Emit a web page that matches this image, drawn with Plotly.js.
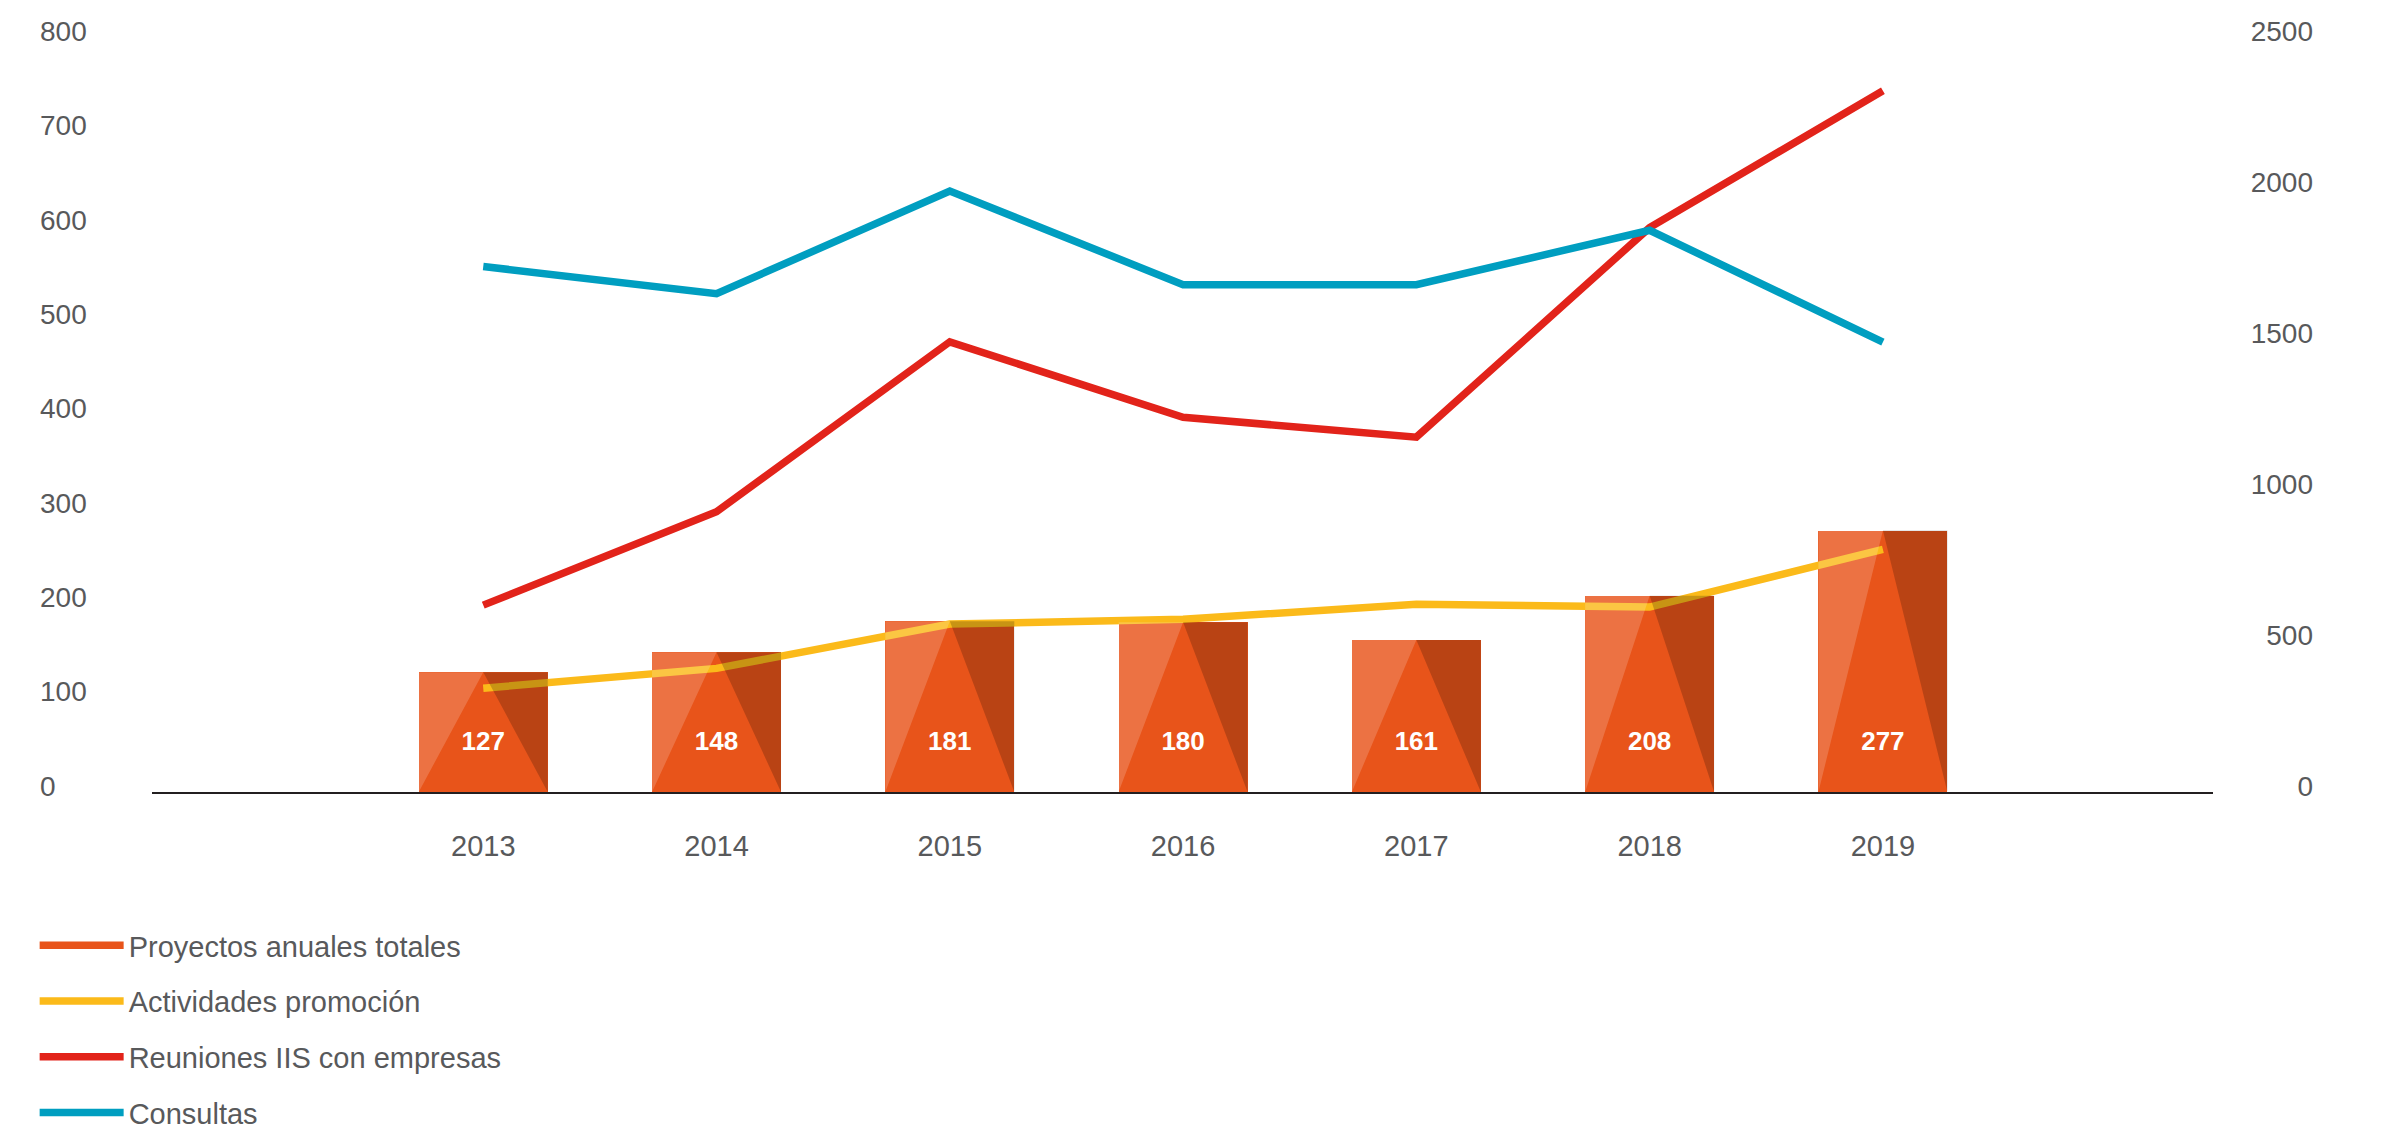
<!DOCTYPE html>
<html>
<head>
<meta charset="utf-8">
<script src="https://cdn.plot.ly/plotly-3.0.1.min.js"></script>
<style>html,body{margin:0;padding:0;background:#fff;}#chart{width:2382px;height:1138px;}</style>
</head>
<body>
<div id="chart"></div>
<script>
// ---- data ----
const years = [2013, 2014, 2015, 2016, 2017, 2018, 2019];
const yearLabels = ["2013", "2014", "2015", "2016", "2017", "2018", "2019"];
const proyectos = [127, 148, 181, 180, 161, 208, 277];           // Proyectos anuales totales (left axis)
const actividades = [110, 131, 178, 183, 199, 196, 257];         // Actividades promoción (left axis)
const reuniones = [198, 297, 477, 397, 376, 598, 743];           // Reuniones IIS con empresas (left axis)
const consultas = [1740, 1650, 1990, 1680, 1680, 1860, 1490];    // Consultas (right axis)
const leftTicks = [0, 100, 200, 300, 400, 500, 600, 700, 800];
const rightTicks = [0, 500, 1000, 1500, 2000, 2500];
const seriesNames = ["Proyectos anuales totales", "Actividades promoción", "Reuniones IIS con empresas", "Consultas"];

// ---- style ----
const C_BAR = "#E8541A", C_YEL = "#FBBA1A", C_RED = "#E2231A", C_BLUE = "#009EC0";
const TXT = "#58595B";
const FONT = "Liberation Sans, Arial, Helvetica, sans-serif";
const BAR_W = 0.553;
const LABEL_Y = 51;   // vertical placement of bar value labels (left-axis units)
const LW = 7.5;

// facet overlays derived from the bar values
const lightX = [], lightY = [], darkX = [], darkY = [];
years.forEach((x, i) => {
  const v = proyectos[i], h = BAR_W / 2;
  lightX.push(x - h, x - h, x, null); lightY.push(0, v, v, null);
  darkX.push(x + h, x + h, x, null);  darkY.push(0, v, v, null);
});

const traces = [
  {type: "bar", x: years, y: proyectos, width: BAR_W, marker: {color: C_BAR, line: {width: 0}},
   showlegend: false, hoverinfo: "x+y"},
  {type: "scatter", mode: "lines", x: [null], y: [null], name: seriesNames[0], legendgroup: "a",
   line: {color: C_BAR, width: LW}},
  {type: "scatter", mode: "lines", x: years, y: actividades, name: seriesNames[1], legendgroup: "b",
   line: {color: C_YEL, width: LW}},
  {type: "scatter", mode: "lines", x: lightX, y: lightY, fill: "toself", fillcolor: "rgba(255,255,255,0.18)",
   line: {width: 0}, showlegend: false, hoverinfo: "skip"},
  {type: "scatter", mode: "lines", x: darkX, y: darkY, fill: "toself", fillcolor: "rgba(0,0,0,0.2)",
   line: {width: 0}, showlegend: false, hoverinfo: "skip"},
  {type: "scatter", mode: "text", x: years, y: years.map(() => LABEL_Y), text: proyectos.map(String),
   textfont: {family: FONT, size: 26, color: "#ffffff", weight: "bold"}, showlegend: false, hoverinfo: "skip"},
  {type: "scatter", mode: "lines", x: years, y: reuniones, name: seriesNames[2], legendgroup: "c",
   line: {color: C_RED, width: LW}},
  {type: "scatter", mode: "lines", x: years, y: consultas, name: seriesNames[3], legendgroup: "d", yaxis: "y2",
   line: {color: C_BLUE, width: LW}}
];

const layout = {
  width: 2382, height: 1138,
  margin: {l: 30, r: 30, t: 37, b: 0},
  paper_bgcolor: "#fff", plot_bgcolor: "rgba(0,0,0,0)",
  font: {family: FONT, color: TXT, size: 29},
  showlegend: true,
  legend: {x: 0.002, xanchor: "left", y: 0, yanchor: "bottom", orientation: "v",
           traceorder: "grouped", tracegroupgap: 15, itemwidth: 84,
           font: {family: FONT, size: 29, color: TXT}, bgcolor: "rgba(0,0,0,0)"},
  xaxis: {domain: [(152 - 30) / 2322, (2213 - 30) / 2322], range: [2011.58, 2020.415],
          tickmode: "array", tickvals: years, ticktext: yearLabels, ticks: "",
          showgrid: false, zeroline: false, showline: true, linecolor: "#231F20", linewidth: 1.5,
          tickfont: {family: FONT, size: 29, color: TXT}, ticklabelstandoff: 28, fixedrange: true},
  yaxis: {domain: [(1138 - 792) / 1101, 1], range: [0, 800], tickmode: "array", tickvals: leftTicks,
          showgrid: false, zeroline: false, showline: false, ticks: "", side: "right", anchor: "free", position: 0,
          ticklabelstandoff: 9, ticklabelshift: -6,
          tickfont: {family: FONT, size: 28, color: TXT}, fixedrange: true},
  yaxis2: {range: [0, 2500], tickmode: "array", tickvals: rightTicks, overlaying: "y", showgrid: false,
           zeroline: false, showline: false, ticks: "", side: "left", anchor: "free", position: 1,
           ticklabelstandoff: 39, ticklabelshift: -6,
           tickfont: {family: FONT, size: 28, color: TXT}, fixedrange: true},
  bargap: 0
};

Plotly.newPlot("chart", traces, layout, {displayModeBar: false, staticPlot: true});
</script>
</body>
</html>
